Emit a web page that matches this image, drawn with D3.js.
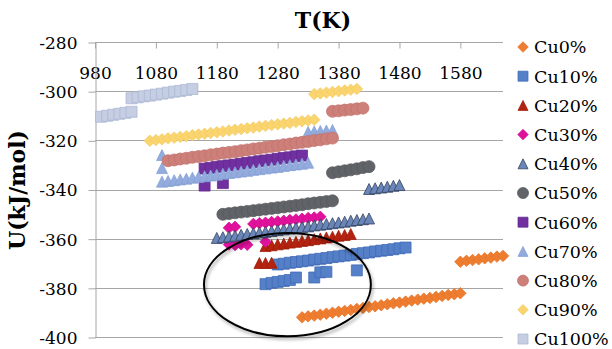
<!DOCTYPE html>
<html>
<head>
<meta charset="utf-8">
<script src="https://cdn.jsdelivr.net/npm/d3@7"></script>
<style>
  html, body { margin: 0; padding: 0; background: #fff; overflow: hidden; }
  svg { display: block; }
  text { font-family: "DejaVu Serif", serif; fill: #000; }
</style>
</head>
<body>
<script>
const outerWidth = 612;
const outerHeight = 349;
const margin = { top: 42, right: 109, bottom: 12, left: 95 };
const innerWidth = outerWidth - margin.left - margin.right;
const innerHeight = outerHeight - margin.top - margin.bottom;

// series: [T (K), U (kJ/mol)]
const cu0 = [[1320,-392.0],[1330,-391.6],[1340,-391.3],[1350,-390.9],[1360,-390.5],[1370,-390.1],[1380,-389.7],
  [1390,-389.4],[1400,-389.0],[1410,-388.6],[1420,-388.2],[1430,-387.8],[1440,-387.5],[1450,-387.1],[1460,-386.7],
  [1470,-386.3],[1480,-386.0],[1490,-385.6],[1500,-385.2],[1510,-384.8],[1520,-384.4],[1530,-384.1],[1540,-383.7],
  [1550,-383.3],[1560,-382.9],[1570,-382.6],[1580,-382.2],
  [1580,-369.4],[1590,-369.0],[1600,-368.7],[1610,-368.4],[1620,-368.0],[1630,-367.7],[1640,-367.3],[1650,-367.0]];
const cu10 = [[1260,-378.5],[1270,-378.0],[1280,-377.6],[1290,-377.2],[1300,-376.8],[1310,-375.8],
  [1340,-375.8],[1350,-373.7],[1360,-373.5],[1410,-372.9],
  [1280,-370.5],[1290,-370.2],[1300,-369.8],[1310,-369.5],[1320,-369.2],[1330,-368.9],[1340,-368.5],[1350,-368.2],
  [1360,-367.9],[1370,-367.5],[1380,-367.2],[1390,-366.9],[1400,-366.6],[1410,-366.2],[1420,-365.9],[1430,-365.6],
  [1440,-365.2],[1450,-364.9],[1460,-364.6],[1470,-364.3],[1480,-363.9],[1490,-363.6]];
const cu20 = [[1250,-369.9],[1260,-369.9],[1270,-369.8],
  [1260,-363.0],[1270,-362.7],[1280,-362.3],[1290,-362.0],[1300,-361.6],[1310,-361.3],[1320,-360.9],[1330,-360.6],
  [1340,-360.2],[1350,-359.9],[1360,-359.5],[1370,-359.2],[1380,-358.8],[1390,-358.5],[1400,-358.1]];
const cu30 = [[1200,-362.4],[1210,-362.6],[1220,-362.3],[1230,-362.5],[1260,-361.3],
  [1200,-355.6],[1210,-355.2],
  [1240,-354.0],[1250,-353.7],[1260,-353.5],[1270,-353.2],[1280,-353.0],[1290,-352.7],[1300,-352.4],[1310,-352.2],
  [1320,-351.9],[1330,-351.6],[1340,-351.4],[1350,-351.1]];
const cu40 = [[1180,-359.7],[1190,-359.4],[1200,-359.1],[1210,-358.8],[1220,-358.4],[1230,-358.1],[1240,-357.8],
  [1250,-357.5],[1260,-357.2],[1270,-356.9],[1280,-356.5],[1290,-356.2],[1300,-355.9],[1310,-355.6],[1320,-355.3],
  [1330,-355.0],[1340,-354.6],[1350,-354.3],[1360,-354.0],[1370,-353.7],[1380,-353.4],[1390,-353.1],[1400,-352.7],
  [1410,-352.4],[1420,-352.1],[1430,-351.8],
  [1430,-339.8],[1440,-339.5],[1450,-339.2],[1460,-338.9],[1470,-338.5],[1480,-338.2]];
const cu50 = [[1190,-350.1],[1200,-349.8],[1210,-349.5],[1220,-349.2],[1230,-348.9],[1240,-348.6],[1250,-348.3],
  [1260,-348.0],[1270,-347.7],[1280,-347.4],[1290,-347.1],[1300,-346.8],[1310,-346.5],[1320,-346.2],[1330,-345.8],
  [1340,-345.5],[1350,-345.2],[1360,-344.9],[1370,-344.6],
  [1370,-333.2],[1380,-332.8],[1390,-332.4],[1400,-332.0],[1410,-331.6],[1420,-331.1],[1430,-330.7]];
const cu60 = [[1160,-338.4],[1190,-337.4],
  [1160,-331.5],[1170,-331.2],[1180,-330.8],[1190,-330.5],[1200,-330.2],[1210,-329.9],[1220,-329.5],[1230,-329.2],
  [1240,-328.9],[1250,-328.5],[1260,-328.2],[1270,-327.9],[1280,-327.5],[1290,-327.2],[1300,-326.9],[1310,-326.5],
  [1320,-326.2]];
const cu70 = [[1090,-326.0],[1090,-331.3],
  [1090,-336.8],[1100,-336.5],[1110,-336.2],[1120,-335.9],[1130,-335.6],[1140,-335.2],[1150,-334.9],[1160,-334.6],
  [1170,-334.3],[1180,-334.0],[1190,-333.6],[1200,-333.3],[1210,-333.0],[1220,-332.7],[1230,-332.4],[1240,-332.0],
  [1250,-331.7],[1260,-331.4],[1270,-331.1],[1280,-330.8],[1290,-330.4],[1300,-330.1],[1310,-329.8],[1320,-329.5],
  [1330,-329.1],
  [1330,-316.6],[1340,-316.4],[1350,-316.2],[1360,-316.0],[1370,-315.8]];
const cu80 = [[1100,-328.3],[1110,-328.0],[1120,-327.6],[1130,-327.3],[1140,-326.9],[1150,-326.6],[1160,-326.3],
  [1170,-325.9],[1180,-325.6],[1190,-325.2],[1200,-324.9],[1210,-324.6],[1220,-324.2],[1230,-323.9],[1240,-323.5],
  [1250,-323.2],[1260,-322.8],[1270,-322.5],[1280,-322.2],[1290,-321.8],[1300,-321.5],[1310,-321.1],[1320,-320.8],
  [1330,-320.5],[1340,-320.1],[1350,-319.8],[1360,-319.4],[1370,-319.1],
  [1370,-308.2],[1380,-308.0],[1390,-307.7],[1400,-307.5],[1410,-307.2],[1420,-306.9]];
const cu90 = [[1070,-320.2],[1080,-319.9],[1090,-319.6],[1100,-319.2],[1110,-318.9],[1120,-318.6],[1130,-318.3],
  [1140,-317.9],[1150,-317.6],[1160,-317.3],[1170,-317.0],[1180,-316.7],[1190,-316.4],[1200,-316.0],[1210,-315.7],
  [1220,-315.4],[1230,-315.1],[1240,-314.8],[1250,-314.4],[1260,-314.1],[1270,-313.8],[1280,-313.5],[1290,-313.2],
  [1300,-312.9],[1310,-312.5],[1320,-312.2],[1330,-311.9],[1340,-311.6],
  [1340,-301.2],[1350,-300.9],[1360,-300.6],[1370,-300.3],[1380,-300.0],[1390,-299.7],[1400,-299.4],[1410,-299.1]];
const cu100 = [[990,-310.4],[1000,-310.0],[1010,-309.6],[1020,-309.2],[1030,-308.8],[1040,-308.4],
  [1040,-302.9],[1050,-302.5],[1060,-302.1],[1070,-301.8],[1080,-301.4],[1090,-301.0],[1100,-300.6],[1110,-300.2],
  [1120,-299.9],[1130,-299.5],[1140,-299.1]];

const seriesNames = ['Cu0%', 'Cu10%', 'Cu20%', 'Cu30%', 'Cu40%', 'Cu50%', 'Cu60%', 'Cu70%', 'Cu80%', 'Cu90%', 'Cu100%'];
const seriesValues = [cu0, cu10, cu20, cu30, cu40, cu50, cu60, cu70, cu80, cu90, cu100];
const seriesShapes = ['diamond', 'square', 'triangle', 'diamond', 'triangle', 'circle', 'square', 'triangle', 'circle', 'diamond', 'square'];
const seriesFill = ['#ed7d31', '#5580c8', '#b3230f', '#e0129c', '#6a86b8', '#606367', '#7030a0', '#93abdd', '#cd7f79', '#fad56f', '#c6cee3'];
const seriesStroke = ['#e87224', '#3f68b5', '#a01c0a', '#d40b90', '#2f3c58', '#55585c', '#642a90', '#86a0d6', '#c1726c', '#f1ca60', '#aab5d2'];

const xTicks = [980, 1080, 1180, 1280, 1380, 1480, 1580];
const yTicks = [-400, -380, -360, -340, -320, -300, -280];

// the circled region (annotation), in data units
const ringT = 1296, ringU = -378.7, ringRT = 137, ringRU = 21;

const markerSize = { diamond: 11.5, square: 11, triangle: 11, circle: 12 };

function markerPath(shape, s) {
  const h = s / 2;
  if (shape === 'square') return `M${-h},${-h}H${h}V${h}H${-h}Z`;
  if (shape === 'diamond') return `M0,${-h}L${h},0L0,${h}L${-h},0Z`;
  if (shape === 'triangle') return `M0,${-h}L${h},${h}L${-h},${h}Z`;
  return `M${h},0A${h},${h} 0 1,1 ${-h},0A${h},${h} 0 1,1 ${h},0Z`;
}

var svg = d3.select('body').append('svg')
    .attr('width', outerWidth)
    .attr('height', outerHeight);

var defs = svg.append('defs');
defs.append('filter')
    .attr('id', 'shadow')
    .attr('x', '-10%').attr('y', '-10%').attr('width', '120%').attr('height', '130%')
  .append('feDropShadow')
    .attr('dx', 1.5).attr('dy', 2.5).attr('stdDeviation', 1.5)
    .attr('flood-color', '#000').attr('flood-opacity', 0.35);

var g = svg.append('g')
    .attr('transform', `translate(${margin.left},${margin.top})`);

var xScale = d3.scaleLinear().domain([980, 1650]).range([0, innerWidth]);
var yScale = d3.scaleLinear().domain([-400, -280]).range([innerHeight, 0]);

// gridlines
g.append('g').selectAll('line')
    .data(yTicks)
    .enter()
  .append('line')
    .attr('x1', 0).attr('x2', innerWidth)
    .attr('y1', d => Math.round(yScale(d)) + 0.5)
    .attr('y2', d => Math.round(yScale(d)) + 0.5)
    .attr('stroke', '#a6a6a6')
    .attr('stroke-width', 1);

// plain hyphen, as in the original
const tickText = d => String(d);

// x axis on top, labels inside
var xAxis = d3.axisBottom(xScale).tickValues(xTicks).tickSize(6).tickSizeOuter(0).tickFormat(tickText);
var xg = g.append('g').attr('transform', 'translate(0,0.5)').call(xAxis)
    .attr('font-family', '"DejaVu Serif", serif')
    .attr('font-size', 17);
xg.select('.domain').remove();
xg.selectAll('line').attr('stroke', '#a6a6a6');
xg.selectAll('text')
    .attr('y', 31).attr('dy', '0.35em')
    .attr('fill', '#000');

// y axis
var yAxis = d3.axisLeft(yScale).tickValues(yTicks).tickSize(7).tickSizeOuter(0).tickPadding(11).tickFormat(tickText);
var yg = g.append('g').attr('transform', 'translate(0.5,0.5)').call(yAxis)
    .attr('font-family', '"DejaVu Serif", serif')
    .attr('font-size', 17);
yg.select('.domain').attr('stroke', '#a6a6a6');
yg.selectAll('line').attr('stroke', '#a6a6a6');
yg.selectAll('text')
    .attr('dy', '0.35em')
    .attr('fill', '#000');

// markers, series in order so later ones sit on top
seriesValues.forEach((vals, i) => {
  g.append('g')
      .attr('class', 'series')
    .selectAll('path')
      .data(vals)
      .enter()
    .append('path')
      .attr('transform', d => `translate(${xScale(d[0])},${yScale(d[1])})`)
      .attr('d', markerPath(seriesShapes[i], markerSize[seriesShapes[i]]))
      .attr('fill', seriesFill[i])
      .attr('stroke', seriesStroke[i])
      .attr('stroke-width', 0.75);
});

// circled region
g.append('ellipse')
    .attr('cx', xScale(ringT))
    .attr('cy', yScale(ringU))
    .attr('rx', xScale(ringT + ringRT) - xScale(ringT))
    .attr('ry', yScale(ringU - ringRU) - yScale(ringU))
    .attr('fill', 'none')
    .attr('stroke', '#000')
    .attr('stroke-width', 2)
    .attr('filter', 'url(#shadow)');

// axis titles
svg.append('text')
    .attr('x', 323).attr('y', 28)
    .attr('text-anchor', 'middle')
    .attr('font-size', 22)
    .attr('font-weight', 'bold')
    .text('T(K)');

svg.append('text')
    .attr('transform', 'translate(25,190) rotate(-90)')
    .attr('text-anchor', 'middle')
    .attr('font-size', 22)
    .attr('font-weight', 'bold')
    .text('U(kJ/mol)');

// legend
var legend = svg.append('g').attr('transform', 'translate(523,47)');
var cell = legend.selectAll('g')
    .data(seriesNames)
    .enter()
  .append('g')
    .attr('transform', (d, i) => `translate(0,${i * 29.2})`);
cell.append('path')
    .attr('d', (d, i) => markerPath(seriesShapes[i], markerSize[seriesShapes[i]] - 1))
    .attr('fill', (d, i) => seriesFill[i])
    .attr('stroke', (d, i) => seriesStroke[i])
    .attr('stroke-width', 0.75);
cell.append('text')
    .attr('x', 11)
    .attr('dy', '0.36em')
    .attr('font-size', 17.5)
    .text(d => d);
</script>
</body>
</html>
